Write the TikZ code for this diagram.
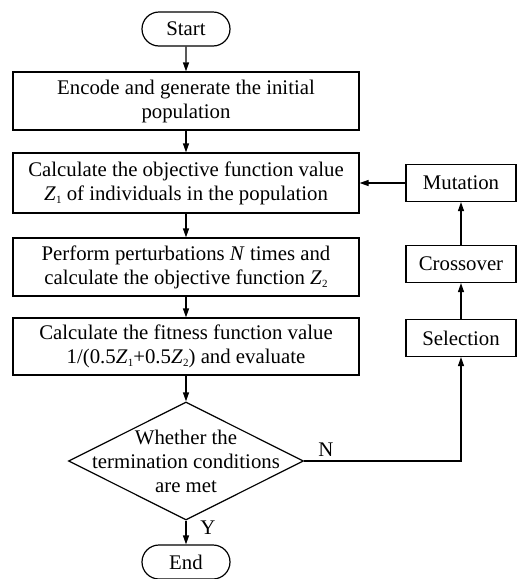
\documentclass[tikz,border=0pt]{standalone}
\usepackage{fontspec}
\setmainfont{Liberation Serif}
\usetikzlibrary{shapes.geometric,shapes.misc,arrows.meta}
\newcommand{\zsub}[1]{\textit{Z}\kern0.3pt\raisebox{-0.35ex}{\fontsize{11}{11}\selectfont #1}}
\begin{document}
\begin{tikzpicture}[x=1pt,y=-1pt,
  every node/.style={font=\fontsize{20.8}{24}\selectfont, text=black},
  box/.style={draw, line width=1.2pt, minimum width=346pt, align=center, inner sep=0pt},
  sbox/.style={draw, line width=1.2pt, minimum width=110pt, minimum height=37pt, inner sep=0pt},
  term/.style={draw, rounded rectangle, line width=1.2pt, minimum width=88pt, minimum height=34pt, inner sep=0pt},
  arr/.style={line width=1.2pt, -{Triangle[length=9pt,width=6pt]}},
  lbl/.style={inner sep=0pt}
]
\useasboundingbox (0,0) rectangle (517,579);
\node[term] (start) at (186,29) {Start};
\node[box, minimum height=58pt] (enc) at (186,101) {Encode and generate the initial\\population};
\node[box, minimum height=60pt] (calc) at (186,183) {Calculate the objective function value\\\zsub{1} of individuals in the population};
\node[box, minimum height=58pt] (perf) at (186,267) {Perform perturbations \textit{N} times and\\calculate the objective function \zsub{2}};
\node[box, minimum height=57pt] (fit) at (186,346.5) {Calculate the fitness function value\\1/(0.5\zsub{1}+0.5\zsub{2}) and evaluate};
\node[diamond, draw, line width=1.2pt, minimum width=235pt, minimum height=118pt, inner sep=0pt] (dec) at (186,461) {};
\node[align=center, inner sep=0pt] (dect) at (dec.center) {Whether the\\termination conditions\\are met};
\node[term] (end) at (186,562) {End};
\node[sbox] (mut) at (461,183) {Mutation};
\node[sbox] (cross) at (461,264) {Crossover};
\node[sbox] (sel) at (461,338) {Selection};
\draw[arr] (start) -- (enc);
\draw[arr] (enc) -- (calc);
\draw[arr] (calc) -- (perf);
\draw[arr] (perf) -- (fit);
\draw[arr] (fit) -- (dec);
\draw[arr] (dec) -- (end);
\draw[arr] (dec.east) -- (sel.center |- dec.east) -- (sel);
\draw[arr] (sel) -- (cross);
\draw[arr] (cross) -- (mut);
\draw[arr] (mut) -- (calc);
\node[lbl] (nlab) at (326,450) {N};
\node[lbl] (ylab) at (208,528) {Y};
\end{tikzpicture}
\end{document}
